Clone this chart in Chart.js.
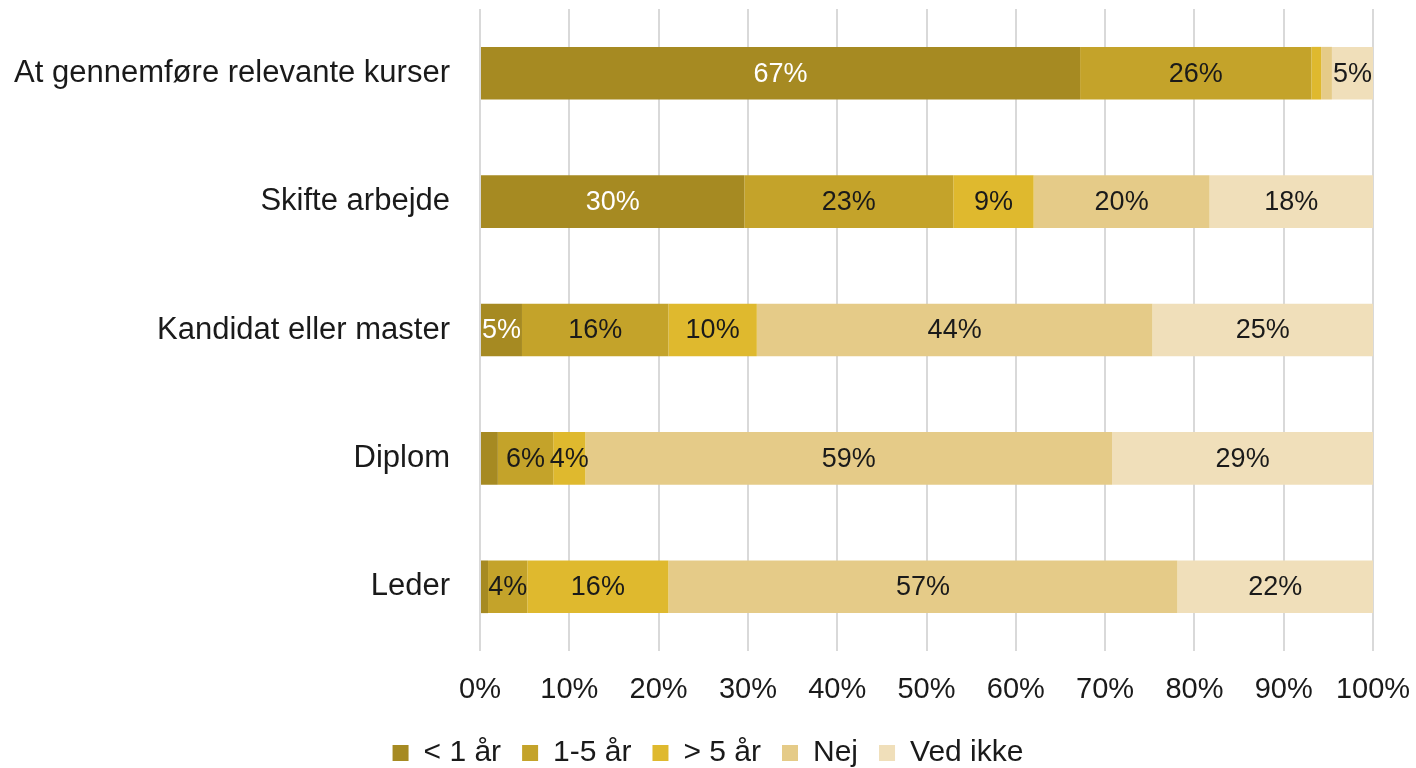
<!DOCTYPE html>
<html>
<head>
<meta charset="utf-8">
<script src="https://cdn.jsdelivr.net/npm/chart.js@4"></script>
<style>
  html, body { margin: 0; padding: 0; background: #fff; }
  #wrap { width: 1416px; height: 768px; }
</style>
</head>
<body>
<div id="wrap"><canvas id="myChart" width="1416" height="768"></canvas></div>
<script>
var categories = ["At gennemføre relevante kurser", "Skifte arbejde", "Kandidat eller master", "Diplom", "Leder"];
var seriesNames = ["< 1 år", "1-5 år", "> 5 år", "Nej", "Ved ikke"];
var underEtAar = [67.2, 29.6, 4.7, 2.0, 0.9];
var etTilFemAar = [25.9, 23.4, 16.4, 6.2, 4.4];
var overFemAar = [1.1, 9.0, 9.9, 3.6, 15.8];
var nej = [1.2, 19.7, 44.3, 59.0, 57.0];
var vedIkke = [4.6, 18.3, 24.7, 29.2, 21.9];
var xTicks = [0, 10, 20, 30, 40, 50, 60, 70, 80, 90, 100];

var colors = ['#a68a22', '#c4a32a', '#dfb92e', '#e5cb88', '#f0dfba'];
var labelColors = ['#ffffff', '#1a1a1a', '#1a1a1a', '#1a1a1a', '#1a1a1a'];

// draws the percent labels inside the segments
var barLabels = {
    id: 'barLabels',
    afterDatasetsDraw: function (chart) {
        var ctx = chart.ctx;
        ctx.save();
        ctx.font = '27px Arial, "Liberation Sans", sans-serif';
        ctx.textAlign = 'center';
        ctx.textBaseline = 'middle';
        chart.data.datasets.forEach(function (ds, i) {
            var meta = chart.getDatasetMeta(i);
            meta.data.forEach(function (bar, j) {
                var v = ds.data[j];
                if (v < 3) return;
                ctx.fillStyle = labelColors[i];
                ctx.fillText(Math.round(v) + '%', (bar.x + bar.base) / 2, bar.y + 1);
            });
        });
        ctx.restore();
    }
};

Chart.defaults.font.family = 'Arial, "Liberation Sans", sans-serif';
Chart.defaults.color = '#1a1a1a';

var ctx = document.getElementById('myChart');
var myChart = new Chart(ctx, {
    type: 'bar',
    data: {
        labels: categories,
        datasets: [underEtAar, etTilFemAar, overFemAar, nej, vedIkke].map(function (d, i) {
            return {
                label: seriesNames[i],
                data: d,
                backgroundColor: colors[i],
                borderWidth: 0,
                barPercentage: 0.41,
                categoryPercentage: 1
            };
        })
    },
    options: {
        indexAxis: 'y',
        responsive: false,
        animation: false,
        layout: { padding: { top: 9, right: 0, bottom: -10, left: 0 } },
        scales: {
            x: {
                stacked: true,
                min: 0,
                max: 100,
                afterBuildTicks: function (scale) {
                    scale.ticks = xTicks.map(function (v) { return { value: v }; });
                },
                afterFit: function (scale) {
                    scale.height = 66;
                    scale.paddingLeft = 0;
                    scale.paddingRight = 43;
                },
                ticks: {
                    font: { size: 29 },
                    padding: 22,
                    maxRotation: 0,
                    callback: function (v) { return v + '%'; }
                },
                grid: { color: '#d9d9d9', lineWidth: 2, drawTicks: false },
                border: { display: false }
            },
            y: {
                stacked: true,
                afterFit: function (scale) {
                    scale.width = 480;
                    scale.paddingTop = 0;
                    scale.paddingBottom = 0;
                },
                ticks: { font: { size: 31 }, padding: 30 },
                grid: { display: false, drawTicks: false },
                border: { display: false }
            }
        },
        plugins: {
            legend: {
                position: 'bottom',
                labels: {
                    font: { size: 30 },
                    boxWidth: 16,
                    boxHeight: 16,
                    padding: 21
                }
            },
            tooltip: { enabled: false }
        }
    },
    plugins: [barLabels]
});
</script>
</body>
</html>
